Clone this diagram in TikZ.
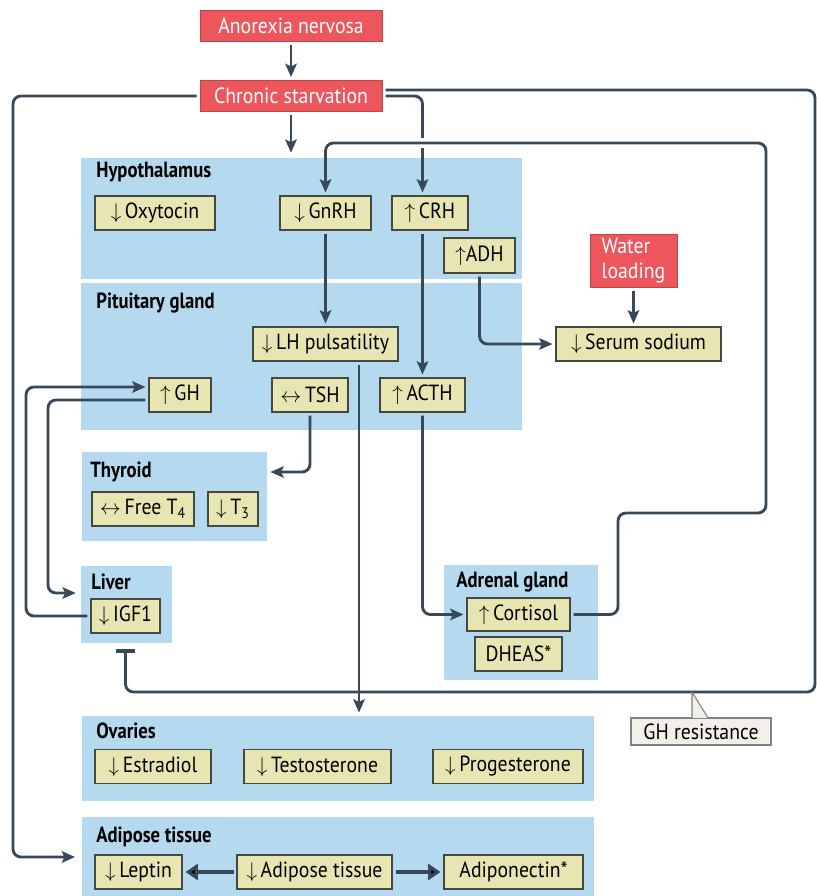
\documentclass[tikz,border=0pt]{standalone}
\usepackage{fontspec}
\setmainfont{PT Sans}[FakeStretch=0.9]
\newfontfamily\ttlfont{PT Sans}[FakeStretch=0.85]
\usetikzlibrary{arrows.meta,calc}
\definecolor{panelblue}{RGB}{181,218,239}
\definecolor{boxfill}{RGB}{231,230,178}
\definecolor{boxline}{RGB}{70,72,64}
\definecolor{alarm}{RGB}{236,86,92}
\definecolor{wire}{RGB}{55,72,88}
\definecolor{notefill}{RGB}{242,238,232}
\definecolor{noteline}{RGB}{130,130,130}
\newcommand{\dwn}{$\downarrow$\,}
\newcommand{\upw}{$\uparrow$\,}
\newcommand{\eqv}{$\leftrightarrow$\,}
\tikzset{
    panel/.style={fill=panelblue, inner sep=0, outer sep=0},
    ptitle/.style={anchor=west, inner sep=0, font=\fontsize{12.5}{14}\ttlfont\bfseries},
    hbox/.style={draw=boxline, fill=boxfill, line width=0.7pt, inner sep=1pt, minimum height=0.68cm, outer sep=2pt, font=\fontsize{12.5}{14}\selectfont},
    rbox/.style={fill=alarm, draw=alarm!80!black, line width=0.4pt, text=white, inner sep=1pt, minimum height=0.62cm, outer sep=2pt, font=\fontsize{12.5}{14}\selectfont},
    note/.style={draw=noteline, fill=notefill, line width=0.6pt, inner sep=1pt, minimum height=0.54cm, font=\fontsize{12.5}{14}\selectfont},
    link/.style={draw=wire, line width=1.6pt, rounded corners=4.5pt, -{Stealth[length=7.5pt,width=6.5pt,inset=1.5pt]}},
    heavy/.style={draw=wire, line width=2.6pt, -{Triangle[length=7pt,width=9pt]}},
    block/.style={draw=wire, line width=1.6pt, rounded corners=4.5pt, -{Bar[width=11pt,line width=2.5pt]}},
    gap/.style={draw=white, line width=6pt}
}
\begin{document}
\begin{tikzpicture}[x=0.02cm, y=-0.02cm]
    \useasboundingbox (0,0) rectangle (817,896);
    \node[panel, minimum width=8.82cm, minimum height=2.42cm](hyp) at (301.5,218.5) {};
    \node[panel, minimum width=8.82cm, minimum height=2.94cm](pit) at (301.5,356.5) {};
    \node[panel, minimum width=3.7cm, minimum height=1.78cm](thy) at (174.5,496.5) {};
    \node[panel, minimum width=1.82cm, minimum height=1.54cm](liv) at (126.5,604.5) {};
    \node[panel, minimum width=3.08cm, minimum height=2.3cm](adr) at (521,622.5) {};
    \node[panel, minimum width=10.24cm, minimum height=1.7cm](ova) at (338,758.5) {};
    \node[panel, minimum width=10.24cm, minimum height=1.6cm](adi) at (338,857) {};
    \node[ptitle](hypt) at (96,172) {Hypothalamus};
    \node[ptitle](pitt) at (96,303) {Pituitary gland};
    \node[ptitle](thyt) at (90,472) {Thyroid};
    \node[ptitle](livt) at (91,582) {Liver};
    \node[ptitle](adrt) at (456,582) {Adrenal gland};
    \node[ptitle](ovat) at (96,731) {Ovaries};
    \node[ptitle](adit) at (96,837) {Adipose tissue};
    \node[rbox, minimum width=3.64cm](an) at (291,25.5) {Anorexia nervosa};
    \node[rbox, minimum width=3.64cm](cs) at (291,96) {Chronic starvation};
    \node[hbox, minimum width=2.4cm](oxy) at (155,213) {\dwn Oxytocin};
    \node[hbox, minimum width=1.82cm](gnrh) at (325.5,213) {\dwn GnRH};
    \node[hbox, minimum width=1.52cm](crh) at (430,213) {\upw CRH};
    \node[hbox, minimum width=1.42cm, minimum height=0.7cm](adh) at (479.5,255.5) {$\uparrow$ADH};
    \node[rbox, minimum width=1.74cm, minimum height=1.06cm, align=left](wat) at (633.5,260.5) {Water\\loading};
    \node[hbox, minimum width=2.9cm](lh) at (325.5,344) {\dwn LH pulsatility};
    \node[hbox, minimum width=3.3cm](sod) at (638.5,344) {\dwn Serum sodium};
    \node[hbox, minimum width=1.24cm](gh) at (180,395) {\upw GH};
    \node[hbox, minimum width=1.52cm](tsh) at (310,395) {\eqv TSH};
    \node[hbox, minimum width=1.7cm](acth) at (422.5,395) {\upw ACTH};
    \node[hbox, minimum width=2.04cm](ft4) at (143,509) {\eqv Free T\textsubscript{4}};
    \node[hbox, minimum width=1.0cm](t3) at (233,509) {\dwn T\textsubscript{3}};
    \node[hbox, minimum width=1.38cm](igf) at (125.5,616) {\dwn IGF1};
    \node[hbox, minimum width=2.06cm, minimum height=0.66cm](cor) at (518.5,614.5) {\upw Cortisol};
    \node[hbox, minimum width=1.74cm](dhe) at (518.5,654) {DHEAS*};
    \node[hbox, minimum width=2.32cm](est) at (153,766.5) {\dwn Estradiol};
    \node[hbox, minimum width=2.94cm](tes) at (317.5,766.5) {\dwn Testosterone};
    \node[hbox, minimum width=3.0cm](pro) at (508,766.5) {\dwn Progesterone};
    \node[hbox, minimum width=1.74cm](lep) at (138.5,872) {\dwn Leptin};
    \node[hbox, minimum width=3.1cm](adt) at (314.5,872) {\dwn Adipose tissue};
    \node[hbox, minimum width=2.78cm](apn) at (513.5,872) {Adiponectin*};
    \node[note, minimum width=2.8cm](ghr) at (701,731.5) {GH resistance};
    \coordinate (lho) at ($(lh.south)+(33.5,0)$);
    \coordinate (kink) at (692,692);
    \path[link]
      (an) edge (cs)
      (gnrh) edge (lh)
      (wat) edge (wat |- sod.north)
      ;
    \draw[link, shorten >=3pt] (cs.south) -- (cs.south |- hyp.north);
    \draw[link, shorten >=4pt] (cs.west) -| (13,857) -- (adi.west);
    \draw[link] (cs.east) -| (crh.north -| acth.north);
    \draw[block, shorten >=7pt] ($(cs.east)+(0,-6)$) -- (815,90) -- (815,692) -| (igf.south);
    \draw[link] (crh.south -| acth.north) -- (acth.north);
    \draw[link] (adh.south) |- (sod.west);
    \draw[link, shorten >=2pt] (tsh.south) |- ($(thy.north east)+(0,20)$);
    \draw[link, shorten >=2pt] (lho) -- (lho |- ova.north);
    \draw[link] (acth.south) |- (cor.west);
    \draw[gap] (410,143) -- (436,143);
    \draw[link] (cor.east) -| (618,513) -| (766,143) -| (gnrh.north);
    \draw[link] (igf.west) -| (26,387) -- ($(gh.west)+(0,-8)$);
    \draw[link, shorten >=3pt] ($(gh.west)+(0,5)$) -| (48,593) -- ($(liv.north west)+(0,27)$);
    \path[heavy]
      (adt) edge (lep)
      (adt) edge (apn)
      ;
    \filldraw[draw=noteline, fill=notefill, line width=0.6pt] ($(kink |- ghr.north)+(0,0.4)$) -- (kink) -- ($(ghr.north)+(7,0.4)$);
\end{tikzpicture}
\end{document}
